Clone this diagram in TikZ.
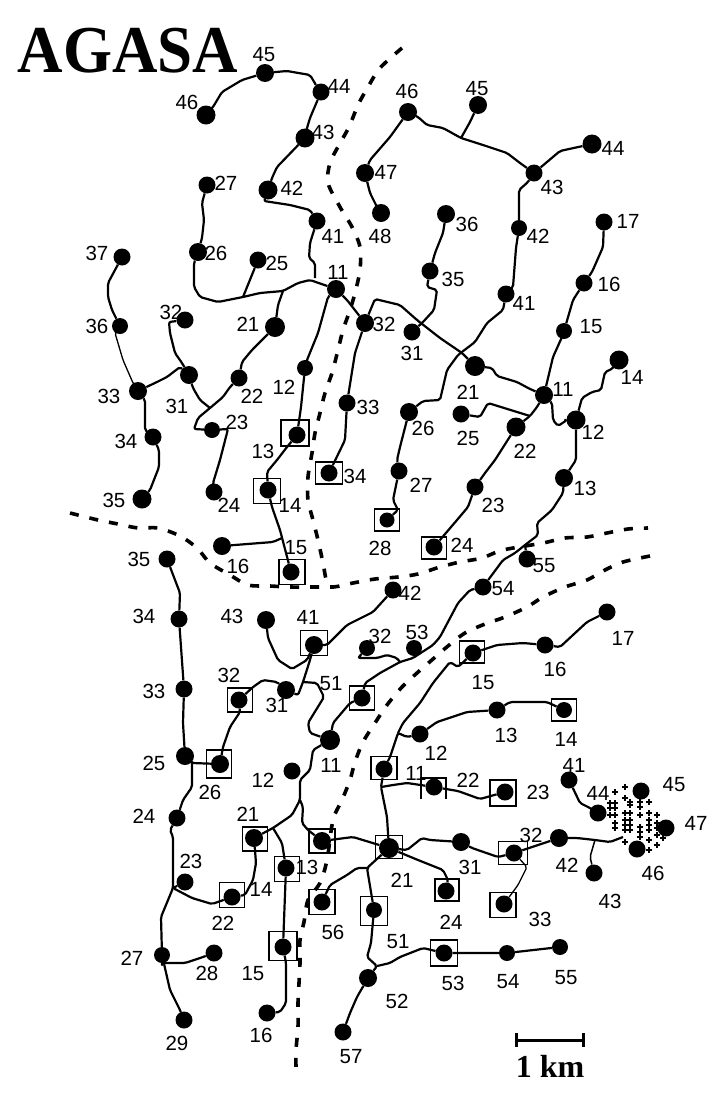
\documentclass[tikz,border=0pt]{standalone}
\usepackage{fontspec}
\setmainfont{Liberation Serif}
\newfontfamily\numfont{Liberation Sans}
\tikzset{
  det/.style={circle,fill=black,inner sep=0pt},
  hutbox/.style={draw,rectangle,line width=1.8pt,inner sep=0pt},
  wire/.style={line width=2.2pt,line join=round,rounded corners=2pt},
  river/.style={line width=3.6pt,dash pattern=on 9pt off 11pt},
  lab/.style={font=\numfont\fontsize{20.5}{20.5}\selectfont,inner sep=0pt},
  plusmark/.style={line width=1.7pt}
}
\begin{document}
\begin{tikzpicture}[x=1pt,y=-1pt]
\useasboundingbox (0,0) rectangle (724,1106);

% rivers
\draw[river] plot[smooth] coordinates {(402,48) (380,68) (368,87) (358,105) (349,127) (339,145) (330,163) (328,183) (340,207) (352,227) (360,247) (360,270) (355,293) (350,310) (343,330) (338,350) (332,373) (325,393) (320,413) (315,433) (312,453) (308,477) (308,500) (313,520) (318,540) (323,563) (327,583) (333,587) (353,583) (375,579) (398,577) (418,574) (440,567) (460,562) (482,558) (503,550) (543,543) (565,538) (587,537) (607,533) (628,529) (648,528)};
\draw[river] plot[smooth] coordinates {(70,513) (98,520) (118,524) (138,528) (158,528) (180,536) (197,548) (210,563) (230,575) (248,585) (270,586) (290,587) (313,587) (333,587)};
\draw[river] plot[smooth] coordinates {(650,556) (623,562) (605,570) (587,580) (565,587) (543,597) (527,607) (505,617) (485,624) (465,633) (448,646) (433,659) (417,673) (402,687) (387,705) (375,723) (363,742) (355,762) (350,780) (342,800) (333,820) (327,860) (320,883) (308,900) (304,922) (300,940) (300,963) (299,983) (298,1003) (298,1027) (296,1050) (296,1067)};

% detectors
\foreach \name/\x/\y/\d in {a45/265/73/18,a46/206/115/19,a44/321/92/17,a43/305/138/19,a42/268/190/19,a41/317/221/17,a27/207/185/17,a26/198/252/18,a25/258/260/17,a37/122/257/17,a11/336/289/18,a36/120/326/16,a32l/185/320/17,a21/275/327/20,a31/189/375/18,a33/138/391/18,a22/239/378/17,a12/305/368/16,a32/365/323/18,a23/212/430/16,a33r/347/403/17,a13/297/435/17,a34r/329/473/17,a34/153/437/17,a14/268/490/17,a24/214/492/17,a35/142/499/19,a16/222/546/18,a15/291/572/17,
b46/408/112/18,b45/478/105/18,b44/592/144/19,b43/534/173/17,b47/365/173/18,b48/381/213/18,b36/446/214/18,b42/519/228/16,b17/604/222/17,b35/430/271/17,b16/584/283/17,b41/506/294/17,b15/564/331/16,b31/412/332/17,b14/619/360/19,b21/475/366/20,b11/544/395/18,b25/461/414/17,b26/409/412/18,b12/576/420/19,b22/516/427/19,b27/399/471/17,b13/564/478/18,b23/475/487/17,b28/387/520/15,b24/434/547/17,b55/527/559/17,b54/483/587/17,
c35/167/559/17,c34/179/619/17,c43/266/620/18,c41/314/645/18,c42/393/590/17,c32l/367/648/16,c53/414/648/16,c33/184/689/17,c31/286/690/18,c32/239/700/17,c51/362/698/17,c11/330/740/20,c25/185/756/18,c26/220/764/18,c12/292/771/17,c11r/384/769/17,c24/177/818/17,c21/254/838/18,c13b/322/841/18,c21r/389/848/20,c13/286/868/17,c23/185/882/17,c22/232/897/17,c56/322/902/17,c51b/374/910/16,c24r/446/891/17,c33r/504/904/17,c53b/444/953/17,c15/283/947/17,c27/162/955/16,c28/214/953/17,c52/368/978/18,c16/267/1013/17,c29/184/1020/17,c57/343/1032/17,c54/507/953/16,c55/560/947/16,
d17/607/612/17,d16/545/645/17,d15/473/653/17,d13/497/710/17,d14/564/710/16,d12/420/734/17,d41/569/780/17,d22/434/787/17,d23/505/792/17,d44/598/813/17,d45/641/791/17,d47/666/828/17,d46/637/849/17,d42/559/838/18,d31/461/842/18,d32/514/853/17,d43/594/873/17}
  \node[det,minimum size=\d pt] (\name) at (\x,\y) {};

% huts
\foreach \name/\x/\y/\w/\h in {a13/295/433/28/26,a34r/329/473/27/22,a14/267/491/27/25,a15/292/572/26/25,b28/387/520/25/22,b24/434/548/25/22,c41/314/643/27/25,c32/240/700/25/24,c51/362/698/25/24,c26/219/764/25/28,c11r/384/768/26/23,c21/255/839/25/24,c13b/322/841/26/24,c21r/389/847/27/23,c13/287/869/25/25,c22/232/895/25/25,c56/322/902/26/25,c51b/374/911/27/29,c24r/447/890/24/22,c33r/503/905/26/25,c53b/444/953/27/26,c15/283/946/28/29,d15/472/652/25/22,d14/564/710/25/22,d23/503/793/26/26,d32/513/853/29/23}
  \node[hutbox,minimum width=\w pt,minimum height=\h pt] (box\name) at (\x,\y) {};
\draw[hutbox] (421,799) -- (421,778) -- (446,778) -- (446,799);

% junctions
\coordinate (ja) at (243,297);
\coordinate (jb) at (283,291);
\coordinate (jc) at (210,408);
\coordinate (jd) at (461,138);
\coordinate (je) at (434,310);
\coordinate (jf) at (530,416);
\coordinate (jg) at (525,545);
\coordinate (jh) at (400,662);
\coordinate (ji) at (303,682);
\coordinate (jj) at (300,800);
\coordinate (jk) at (273,828);
\coordinate (jl) at (192,763);
\coordinate (jm) at (173,888);
\coordinate (jn) at (381,787);
\coordinate (jo) at (398,733);
\coordinate (jp) at (377,966);
\coordinate (jq) at (367,868);
\coordinate (jr) at (595,840);
\coordinate (js) at (623,837);
\coordinate (jt) at (228,429);

% top left array
\draw[wire] (a46) -- (213,107) -- (222,92) -- (242,80) -- (a45);
\draw[wire] (a45) -- (287,71) -- (310,75) -- (316,85) -- (a44);
\draw[wire] (a44) -- (310,118) -- (307,128) -- (a43);
\draw[wire] (a43) -- (277,167) -- (272,178) -- (a42);
\draw[wire] (a42) -- (264,201) -- (290,205) -- (310,210) -- (a41);
\draw[wire] (a41) -- (310,243) -- (309,258) -- (315,263) -- (315,278);
\draw[wire] (a11) -- (310,280) -- (298,283) -- (jb) -- (260,293) -- (ja) -- (218,302) -- (200,297) -- (194,287) -- (194,263) -- (a26);
\draw[wire] (a27) -- (202,203) -- (204,220) -- (202,238) -- (a26);
\draw[wire] (a25) -- (ja);
\draw[wire] (a21) -- (278,305) -- (jb);
\draw[wire] (a37) -- (108,283) -- (108,297) -- (112,310) -- (a36);
\draw[wire,line width=1.3pt] (a36) -- (115,333) -- (123,360) -- (133,383) -- (a33);
\draw[wire] (a33) -- (157,382) -- (167,377) -- (180,367) -- (a31);
\draw[wire] (a32l) -- (169,322) -- (170,333) -- (175,353) -- (182,363) -- (a31);
\draw[wire] (a33) -- (145,400) -- (145,430) -- (a34);
\draw[wire] (a34) -- (159,450) -- (159,467) -- (150,490) -- (a35);
\draw[wire] (a31) -- (193,388) -- (200,400) -- (jc);
\draw[wire] (a22) -- (230,387) -- (223,397) -- (jc) -- (198,418) -- (194,429) -- (a23);
\draw[wire] (a23) -- (jt) -- (220,460) -- (213,483) -- (a24);
\draw[wire] (a21) -- (252,350) -- (242,362) -- (a22);
\draw[wire] (a11) -- (328,297) -- (318,333) -- (307,360) -- (a12);
\draw[wire] (a12) -- (301,407) -- (a13);
\draw[wire] (a13) -- (287,447) -- (277,460) -- (267,472) -- (a14);
\draw[wire] (a14) -- (272,507) -- (280,530) -- (a15);
\draw[wire] (a16) -- (273,542) -- (282,538);
\draw[wire] (a11) -- (347,300) -- (a32);
\draw[wire] (a32) -- (355,353) -- (a33r);
\draw[wire] (a33r) -- (345,440) -- (a34r);
\draw[wire] (a32) -- (375,299) -- (400,305) -- (417,320) -- (440,338) -- (462,353) -- (b21);

% top right array
\draw[wire] (b35) -- (427,287) -- (437,290) -- (je) -- (423,322) -- (b31);
\draw[wire] (b36) -- (443,233) -- (435,253) -- (b35);
\draw[wire] (b41) -- (503,310) -- (487,323) -- (475,342) -- (458,355) -- (447,370) -- (440,400) -- (423,401) -- (b26);
\draw[wire] (b26) -- (400,447) -- (397,460) -- (b27);
\draw[wire] (b27) -- (393,500) -- (398,510) -- (b28);
\draw[wire] (b21) -- (492,368) -- (497,376) -- (517,382) -- (530,389) -- (b11);
\draw[wire] (b11) -- (553,357) -- (562,337) -- (b15);
\draw[wire] (b15) -- (573,300) -- (b16);
\draw[wire] (b16) -- (592,272) -- (603,247) -- (b17);
\draw[wire] (b42) -- (516,248) -- (513,287) -- (b41);
\draw[wire] (b42) -- (519,190) -- (528,182) -- (b43);
\draw[wire] (b43) -- (560,151) -- (b44);
\draw[wire] (b43) -- (520,163) -- (507,153) -- (483,145) -- (jd) -- (443,128) -- (427,125) -- (418,117) -- (b46);
\draw[wire] (b45) -- (470,122) -- (jd);
\draw[wire] (b46) -- (390,137) -- (370,160) -- (b47);
\draw[wire] (b47) -- (370,193) -- (377,207) -- (b48);
\draw[wire] (b11) -- (552,403) -- (553,420) -- (558,426) -- (567,420) -- (b12);
\draw[wire] (b12) -- (582,398) -- (592,392) -- (601,390) -- (605,372) -- (612,369) -- (b14);
\draw[wire] (b12) -- (576,460) -- (b13);
\draw[wire] (b11) -- (537,407) -- (jf) -- (b22);
\draw[wire] (b25) -- (480,417) -- (488,403) -- (jf);
\draw[wire] (b22) -- (495,460) -- (485,473) -- (b23);
\draw[wire] (b23) -- (468,507) -- (457,520) -- (b24);
\draw[wire] (b13) -- (563,493) -- (552,510) -- (537,523) -- (538,535) -- (jg) -- (515,553) -- (503,560) -- (b54);
\draw[wire] (b55) -- (jg);

% bottom arrays
\draw[wire] (b54) -- (470,590) -- (458,603) -- (440,637) -- (433,645) -- (413,658) -- (jh) -- (380,673) -- (365,683) -- (c51);
\draw[wire] (c32l) -- (358,658) -- (377,658) -- (387,655) -- (397,658) -- (jh);
\draw[wire] (c42) -- (373,612) -- (347,625) -- (327,645) -- (c41);
\draw[wire] (c43) -- (268,638) -- (278,660) -- (292,669) -- (307,660) -- (c41);
\draw[wire] (c41) -- (310,660) -- (ji) -- (298,695) -- (c31);
\draw[wire] (ji) -- (317,683) -- (324,697) -- (308,723) -- (310,733) -- (c11);
\draw[wire] (c11) -- (333,723) -- (350,703) -- (c51);
\draw[wire] (c11) -- (313,750) -- (310,770) -- (300,780) -- (jj) -- (292,815) -- (jk) -- (c21);
\draw[wire] (jj) -- (303,807) -- (302,823) -- (308,830) -- (c13b);
\draw[wire] (c35) -- (180,593) -- (c34);
\draw[wire] (c34) -- (c33);
\draw[wire] (c33) -- (183,723) -- (c25);
\draw[wire] (c25) -- (jl) -- (c26);
\draw[wire] (c26) -- (223,747) -- (230,727) -- (240,712) -- (c32);
\draw[wire] (c32) -- (253,687) -- (263,680) -- (277,682) -- (c31);
\draw[wire] (jl) -- (192,787) -- (183,800) -- (c24);
\draw[wire] (c24) -- (170,830) -- (173,837) -- (jm) -- (161,917) -- (c27);
\draw[wire] (c23) -- (jm) -- (192,898) -- (212,904) -- (c22);
\draw[wire] (c27) -- (162,963) -- (185,963) -- (203,957) -- (c28);
\draw[wire] (c27) -- (170,990) -- (180,1010) -- (c29);
\draw[wire] (c21) -- (256,863) -- (253,880) -- (245,895) -- (c22);
\draw[wire] (jk) -- (282,843) -- (c13);
\draw[wire] (c13) -- (c15);
\draw[wire] (c15) -- (286,963) -- (286,1003) -- (280,1012) -- (c16);
\draw[wire] (c13b) -- (353,837) -- (c21r);
\draw[wire] (c21r) -- (388,833) -- (387,817) -- (jn) -- (c11r);
\draw[wire] (jn) -- (393,785) -- (407,783) -- (d22);
\draw[wire] (d22) -- (458,791) -- (480,799) -- (d23);
\draw[wire] (c11r) -- (390,757) -- (jo) -- (407,737) -- (d12);
\draw[wire] (jo) -- (403,723) -- (420,703) -- (433,683) -- (450,662) -- (458,667) -- (d15);
\draw[wire] (d15) -- (497,645) -- (523,643) -- (d16);
\draw[wire] (d16) -- (560,647) -- (587,622) -- (d17);
\draw[wire] (d12) -- (437,722) -- (467,712) -- (d13);
\draw[wire] (d13) -- (510,702) -- (547,702) -- (d14);
\draw[wire] (d41) -- (580,803) -- (590,808) -- (d44);
\draw[wire] (c21r) -- (407,850) -- (422,838) -- (430,840) -- (d31);
\draw[wire] (d31) -- (472,848) -- (498,857) -- (d32);
\draw[wire] (c21r) -- (418,860) -- (443,870) -- (448,880) -- (c24r);
\draw[wire] (c21r) -- (jq) -- (c51b);
\draw[wire] (jq) -- (357,868) -- (347,875) -- (330,885) -- (c56);
\draw[wire] (c51b) -- (371,943) -- (367,957) -- (jp) -- (c52);
\draw[wire] (jp) -- (390,963) -- (400,957) -- (423,948) -- (c53b);
\draw[wire] (c53b) -- (c54) -- (c55);
\draw[wire] (c52) -- (357,997) -- (350,1013) -- (c57);
\draw[wire] (d32) -- (d42);
\draw[wire,line width=1.3pt] (d32) -- (527,867) -- (518,885) -- (c33r);
\draw[wire] (d42) -- (577,838) -- (jr) -- (610,842) -- (js);
\draw[wire,line width=1.5pt] (jr) -- (590,857) -- (d43);

% muon counters
\foreach \x/\y in {625/787,625/798,625/813,625/820,625/825,625/830,625/842,630/802,630/805,630/813,630/820,630/825,630/830,640/802,640/807,640/815,640/827,640/832,640/837,649/802,649/813,649/820,649/825,649/830,649/840,649/850,657/815,657/823,657/828,657/835,657/845,610/803,610/808,610/815,615/792,615/803,615/808,615/815,615/823,615/828,663/838,667/833}
  \draw[plusmark] (\x-3,\y) -- (\x+3,\y) (\x,\y-3) -- (\x,\y+3);

% labels
\foreach \name/\x/\y/\txt in {la45/264/55/45,la46/187/102/46,la44/339/86/44,la43/323/132/43,la27/226/183/27,la42/292/188/42,la41/333/236/41,la37/97/253/37,la26/216/253/26,la25/277/263/25,la11/338/272/11,la36/97/326/36,la32/171/312/32,la21/248/324/21,la32r/384/324/32,la22/252/396/22,la12/284/387/12,la33/109/396/33,la31/177/406/31,la33r/368/407/33,la23/237/422/23,la34/126/441/34,la13/263/451/13,la34r/355/476/34,la14/290/505/14,la24/229/505/24,la35/114/500/35,la15/296/548/15,la16/238/566/16,
lb46/407/91/46,lb45/477/89/45,lb44/613/148/44,lb47/386/172/47,lb43/552/187/43,lb48/380/236/48,lb36/467/224/36,lb42/538/236/42,lb17/628/221/17,lb35/453/279/35,lb16/609/284/16,lb41/524/303/41,lb15/591/327/15,lb31/412/353/31,lb21/468/392/21,lb11/563/389/11,lb14/632/377/14,lb25/468/438/25,lb26/423/428/26,lb12/593/432/12,lb22/525/451/22,lb13/585/488/13,lb27/421/485/27,lb23/493/505/23,lb28/380/548/28,lb24/462/545/24,lb55/544/566/55,lb54/503/589/54,
lc35/139/559/35,lc42/410/593/42,lc43/232/616/43,lc41/308/617/41,lc34/144/616/34,lc32r/380/636/32,lc53/417/632/53,lc32/229/675/32,lc51/331/684/51,lc33/154/691/33,lc31/277/705/31,lc25/154/763/25,lc11/331/765/11,lc12/263/780/12,lc26/210/792/26,lc24/144/816/24,lc21/248/814/21,lc11r/416/773/11,lc23/191/861/23,lc13/307/867/13,lc14/261/889/14,lc21r/402/880/21,lc22/223/923/22,lc56/333/932/56,lc51b/398/942/51,lc15/253/974/15,lc27/132/958/27,lc28/207/973/28,lc53b/453/983/53,lc52/397/1001/52,lc54/508/982/54,lc55/566/978/55,lc16/261/1035/16,lc29/177/1043/29,lc57/351/1057/57,lc24r/451/922/24,lc33r/540/919/33,
ld17/623/638/17,ld16/555/669/16,ld15/483/683/15,ld13/506/735/13,ld14/566/739/14,ld12/436/753/12,ld41/574/765/41,ld22/468/780/22,ld23/538/792/23,ld44/598/793/44,ld45/674/785/45,ld47/696/823/47,ld32/531/835/32,ld42/567/865/42,ld31/470/867/31,ld46/653/873/46,ld43/610/901/43}
  \node[lab] (\name) at (\x,\y) {\txt};

% title and scale
\node[font=\bfseries\fontsize{67}{67}\selectfont,inner sep=0pt,xscale=.94] (title) at (128,51) {AGASA};
\coordinate (scaleleft) at (516,1040);
\coordinate (scaleright) at (583,1040);
\draw[line width=3pt] (scaleleft) -- (scaleright);
\draw[line width=3pt] (516,1033) -- (516,1047) (583,1033) -- (583,1047);
\node[font=\bfseries\fontsize{32}{32}\selectfont,inner sep=0pt] (scalelab) at (550,1066) {1 km};
\end{tikzpicture}
\end{document}
